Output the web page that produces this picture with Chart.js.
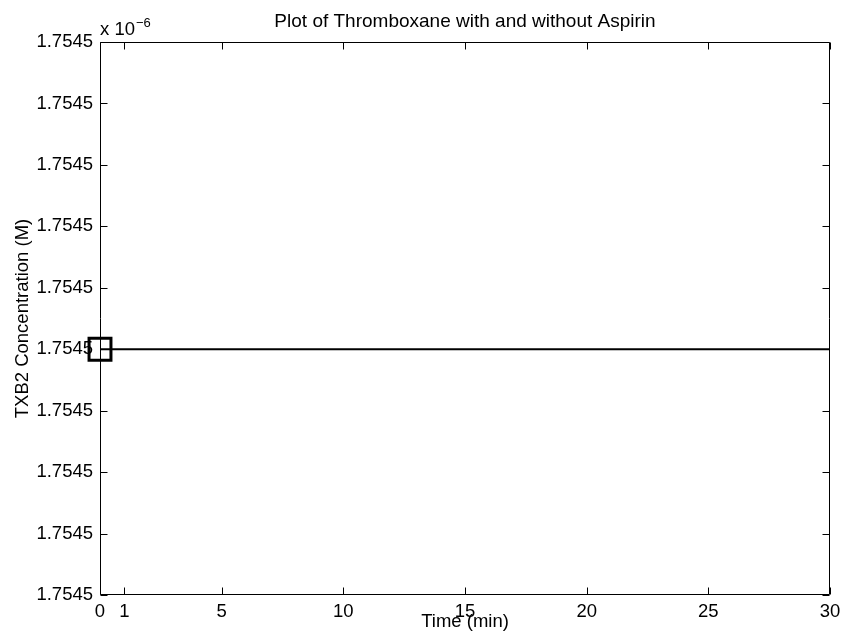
<!DOCTYPE html>
<html><head><meta charset="utf-8">
<script src="https://cdn.jsdelivr.net/npm/chart.js@4/dist/chart.umd.min.js"></script>
<style>html,body{margin:0;padding:0;background:#fff}</style>
</head><body>
<canvas id="c" width="844" height="641"></canvas>
<script>
// Data (concentrations in units of 10^-6 M)
const timeMin = [0, 1, 5, 10, 15, 20, 25, 30];
const txb2WithoutAspirin = [1.7545, 1.7545, 1.7545, 1.7545, 1.7545, 1.7545, 1.7545, 1.7545];
const txb2WithAspirinTime = [0];
const txb2WithAspirin = [1.7545];
const xTickValues = [0, 1, 5, 10, 15, 20, 25, 30];
const yTickValues = [1.7544996, 1.7544997, 1.7544998, 1.7544999, 1.7545000,
                     1.7545001, 1.7545002, 1.7545003, 1.7545004, 1.7545005];
const yExponentText = '\u22126';
const titleText = 'Plot of Thromboxane with and without Aspirin';
const xLabel = 'Time (min)';
const yLabel = 'TXB2 Concentration (M)';

const FONT = '"Liberation Sans", Arial, Helvetica, sans-serif';
const FS = 18.5;

const lineData = timeMin.map((t, i) => ({x: t, y: txb2WithoutAspirin[i]}));
const markData = txb2WithAspirinTime.map((t, i) => ({x: t, y: txb2WithAspirin[i]}));

const boxTicks = {
  id: 'boxTicks',
  afterDraw(chart) {
    const {ctx, chartArea: a, scales} = chart;
    ctx.save();
    ctx.strokeStyle = '#000';
    ctx.lineWidth = 1;
    const L = Math.round(a.left) + 0.5, R = Math.round(a.right) - 0.5;
    const T = Math.round(a.top) + 0.5, B = Math.round(a.bottom) - 0.5;
    ctx.beginPath();
    ctx.rect(L, T, R - L, B - T);
    const tl = 7;
    scales.x.ticks.forEach(tk => {
      const px = Math.round(scales.x.getPixelForValue(tk.value)) + 0.5;
      ctx.moveTo(px, B); ctx.lineTo(px, B - tl);
      ctx.moveTo(px, T); ctx.lineTo(px, T + tl);
    });
    scales.y.ticks.forEach(tk => {
      const py = Math.round(scales.y.getPixelForValue(tk.value)) + 0.5;
      ctx.moveTo(L, py); ctx.lineTo(L + tl, py);
      ctx.moveTo(R, py); ctx.lineTo(R - tl, py);
    });
    ctx.stroke();
    ctx.fillStyle = '#000';
    // title centred on the axes
    ctx.font = '19px ' + FONT;
    ctx.textAlign = 'center';
    ctx.textBaseline = 'alphabetic';
    ctx.fillText(titleText, (a.left + a.right) / 2, 27);
    // exponent label
    ctx.textAlign = 'left';
    ctx.font = FS + 'px ' + FONT;
    const base = 'x 10';
    ctx.fillText(base, a.left, 35);
    const w = ctx.measureText(base).width;
    ctx.font = '13px ' + FONT;
    ctx.fillText(yExponentText, a.left + w + 1, 27);
    ctx.restore();
  }
};

new Chart(document.getElementById('c'), {
  type: 'line',
  data: {
    datasets: [
      {
        label: 'Without Aspirin',
        data: lineData,
        borderColor: '#000',
        borderWidth: 2,
        pointRadius: 0,
        fill: false,
        tension: 0
      },
      {
        label: 'With Aspirin',
        data: markData,
        showLine: false,
        borderColor: '#000',
        backgroundColor: 'rgba(0,0,0,0)',
        pointStyle: 'rect',
        pointRadius: 15.5,
        pointBorderWidth: 3,
        pointHoverRadius: 15.5,
        clip: false
      }
    ]
  },
  plugins: [boxTicks],
  options: {
    responsive: false,
    animation: false,
    devicePixelRatio: 1,
    events: [],
    layout: {autoPadding: false, padding: {left: 0, right: 14, top: 42, bottom: 0}},
    plugins: {
      legend: {display: false},
      tooltip: {enabled: false},
      title: {display: false}
    },
    scales: {
      x: {
        type: 'linear',
        min: xTickValues[0],
        max: xTickValues[xTickValues.length - 1],
        afterBuildTicks: s => { s.ticks = xTickValues.map(v => ({value: v})); },
        afterFit: s => { s.height = 46; s.paddingLeft = 0; s.paddingRight = 0; },
        grid: {display: false, drawTicks: false},
        border: {display: false},
        ticks: {
          color: '#000',
          font: {family: FONT, size: FS},
          padding: 6,
          maxRotation: 0,
          autoSkip: false,
          callback: v => String(v)
        },
        title: {
          display: true,
          text: xLabel,
          color: '#000',
          font: {family: FONT, size: FS},
          padding: {top: 0, bottom: 8}
        }
      },
      y: {
        type: 'linear',
        min: yTickValues[0],
        max: yTickValues[yTickValues.length - 1],
        afterBuildTicks: s => { s.ticks = yTickValues.map(v => ({value: v})); },
        afterFit: s => { s.width = 100; s.paddingTop = 0; s.paddingBottom = 0; },
        grid: {display: false, drawTicks: false},
        border: {display: false},
        ticks: {
          color: '#000',
          font: {family: FONT, size: FS},
          padding: 7,
          autoSkip: false,
          callback: v => Number(v).toFixed(4)
        },
        title: {
          display: true,
          text: yLabel,
          color: '#000',
          font: {family: FONT, size: FS},
          padding: {top: 12, bottom: 0}
        }
      }
    }
  }
});
</script>
</body></html>
